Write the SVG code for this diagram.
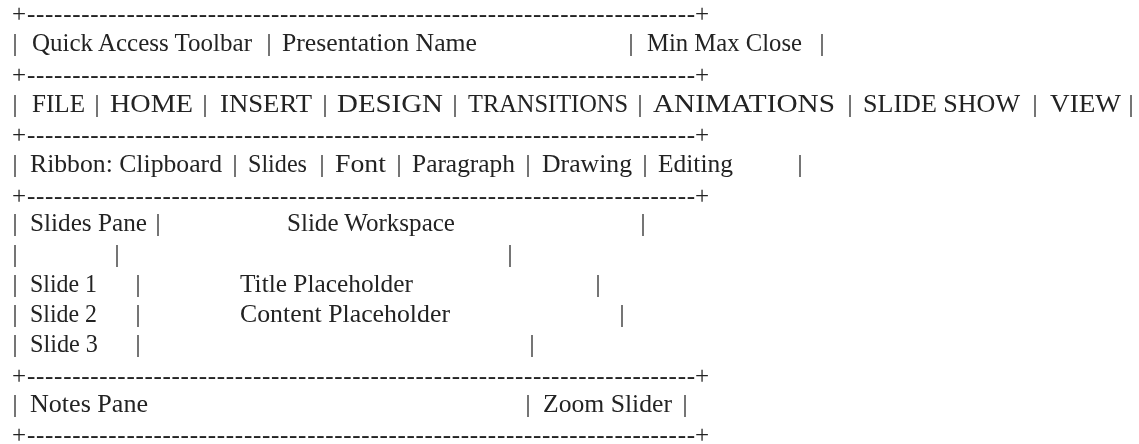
<svg xmlns="http://www.w3.org/2000/svg" width="1139" height="444" viewBox="0 0 1139 444">
  <style>
    text { font-family: "Liberation Serif", "Times New Roman", serif; font-size: 25px; fill: #222222; }
    .bar { text-anchor: middle; }
  </style>
  <defs>
    <!-- one horizontal rule of the ASCII frame: a plus, a run of hyphens, a plus -->
    <g id="rule">
      <text x="12">+</text>
      <text x="27" textLength="668" lengthAdjust="spacing">--------------------------------------------------------------------------</text>
      <text x="695">+</text>
    </g>
  </defs>
  <rect width="1139" height="444" fill="#ffffff"/>

  <!-- grouped with a layer so the glyphs get greyscale antialiasing -->
  <g opacity="0.995">
  <!-- horizontal rules -->
  <g id="rules">
    <use href="#rule" y="22"/>
    <use href="#rule" y="82.5"/>
    <use href="#rule" y="143"/>
    <use href="#rule" y="203.5"/>
    <use href="#rule" y="384"/>
    <use href="#rule" y="443"/>
  </g>

  <!-- title bar -->
  <g id="title-bar">
    <text class="bar" x="15" y="51">|</text>
    <text x="32" y="51">Quick Access Toolbar</text>
    <text class="bar" x="269" y="51">|</text>
    <text x="282" y="51" textLength="195" lengthAdjust="spacingAndGlyphs">Presentation Name</text>
    <text class="bar" x="631" y="51">|</text>
    <text x="647" y="51" textLength="155" lengthAdjust="spacingAndGlyphs">Min Max Close</text>
    <text class="bar" x="822" y="51">|</text>
  </g>

  <!-- menu tabs -->
  <g id="tabs">
    <text class="bar" x="15" y="112">|</text>
    <text x="32" y="112" textLength="53" lengthAdjust="spacingAndGlyphs">FILE</text>
    <text class="bar" x="97" y="112">|</text>
    <text x="110" y="112" textLength="83" lengthAdjust="spacingAndGlyphs">HOME</text>
    <text class="bar" x="205" y="112">|</text>
    <text x="220" y="112" textLength="92" lengthAdjust="spacingAndGlyphs">INSERT</text>
    <text class="bar" x="325" y="112">|</text>
    <text x="337" y="112" textLength="106" lengthAdjust="spacingAndGlyphs">DESIGN</text>
    <text class="bar" x="455" y="112">|</text>
    <text x="468" y="112" textLength="160" lengthAdjust="spacingAndGlyphs">TRANSITIONS</text>
    <text class="bar" x="640" y="112">|</text>
    <text x="653" y="112" textLength="182" lengthAdjust="spacingAndGlyphs">ANIMATIONS</text>
    <text class="bar" x="850" y="112">|</text>
    <text x="863" y="112" textLength="157" lengthAdjust="spacingAndGlyphs">SLIDE SHOW</text>
    <text class="bar" x="1035" y="112">|</text>
    <text x="1050" y="112" textLength="71" lengthAdjust="spacingAndGlyphs">VIEW</text>
    <text class="bar" x="1131" y="112">|</text>
  </g>

  <!-- ribbon groups -->
  <g id="ribbon">
    <text class="bar" x="15" y="172">|</text>
    <text x="30" y="172" textLength="192" lengthAdjust="spacingAndGlyphs">Ribbon: Clipboard</text>
    <text class="bar" x="235" y="172">|</text>
    <text x="248" y="172" textLength="59" lengthAdjust="spacingAndGlyphs">Slides</text>
    <text class="bar" x="322" y="172">|</text>
    <text x="335" y="172" textLength="51" lengthAdjust="spacingAndGlyphs">Font</text>
    <text class="bar" x="399" y="172">|</text>
    <text x="412" y="172" textLength="103" lengthAdjust="spacingAndGlyphs">Paragraph</text>
    <text class="bar" x="528" y="172">|</text>
    <text x="542" y="172" textLength="90" lengthAdjust="spacingAndGlyphs">Drawing</text>
    <text class="bar" x="645" y="172">|</text>
    <text x="658" y="172" textLength="75" lengthAdjust="spacingAndGlyphs">Editing</text>
    <text class="bar" x="800" y="172">|</text>
  </g>

  <!-- slides pane and workspace -->
  <g id="workspace">
    <text class="bar" x="15" y="231">|</text>
    <text x="30" y="231" textLength="117" lengthAdjust="spacingAndGlyphs">Slides Pane</text>
    <text class="bar" x="158" y="231">|</text>
    <text x="287" y="231" textLength="168" lengthAdjust="spacingAndGlyphs">Slide Workspace</text>
    <text class="bar" x="643" y="231">|</text>

    <text class="bar" x="15" y="262">|</text>
    <text class="bar" x="117" y="262">|</text>
    <text class="bar" x="510" y="262">|</text>

    <text class="bar" x="15" y="292">|</text>
    <text x="30" y="292" textLength="67" lengthAdjust="spacingAndGlyphs">Slide 1</text>
    <text class="bar" x="138" y="292">|</text>
    <text x="240" y="292" textLength="173" lengthAdjust="spacingAndGlyphs">Title Placeholder</text>
    <text class="bar" x="598" y="292">|</text>

    <text class="bar" x="15" y="322">|</text>
    <text x="30" y="322" textLength="67" lengthAdjust="spacingAndGlyphs">Slide 2</text>
    <text class="bar" x="138" y="322">|</text>
    <text x="240" y="322" textLength="210" lengthAdjust="spacingAndGlyphs">Content Placeholder</text>
    <text class="bar" x="622" y="322">|</text>

    <text class="bar" x="15" y="352">|</text>
    <text x="30" y="352" textLength="68" lengthAdjust="spacingAndGlyphs">Slide 3</text>
    <text class="bar" x="138" y="352">|</text>
    <text class="bar" x="532" y="352">|</text>
  </g>

  <!-- status bar -->
  <g id="status-bar">
    <text class="bar" x="15" y="412">|</text>
    <text x="30" y="412" textLength="118" lengthAdjust="spacingAndGlyphs">Notes Pane</text>
    <text class="bar" x="528" y="412">|</text>
    <text x="543" y="412" textLength="129" lengthAdjust="spacingAndGlyphs">Zoom Slider</text>
    <text class="bar" x="685" y="412">|</text>
  </g>
  </g>
</svg>
